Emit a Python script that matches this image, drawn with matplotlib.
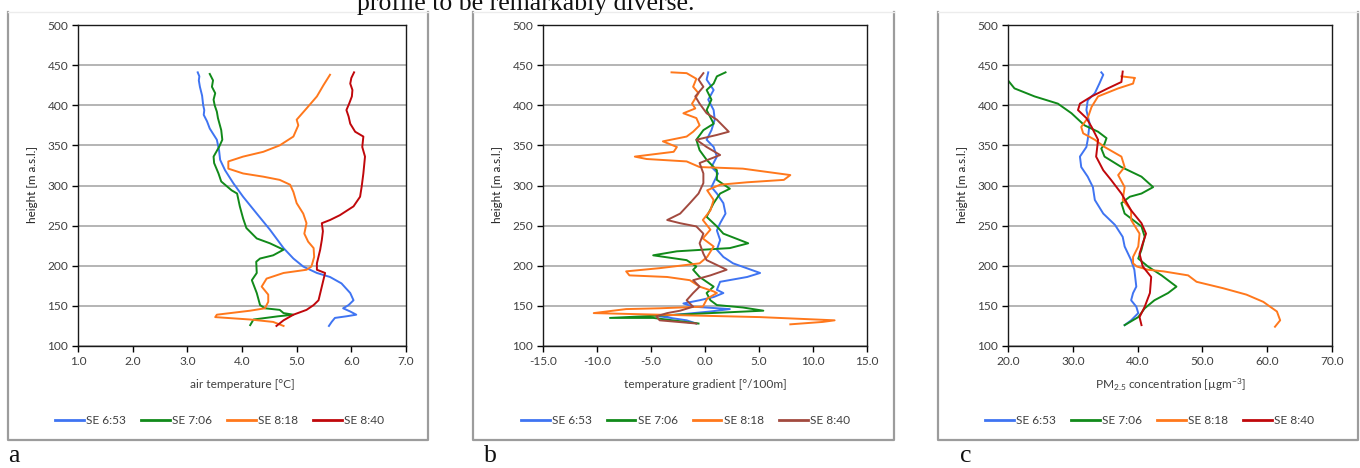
import matplotlib
matplotlib.use("Agg")
import matplotlib.pyplot as plt
from matplotlib.lines import Line2D

plt.rcParams['font.family'] = ['Lato', 'DejaVu Sans']
plt.rcParams['mathtext.fontset'] = 'custom'
plt.rcParams['mathtext.rm'] = 'Lato'
plt.rcParams['mathtext.it'] = 'Lato:italic'

series_names = ["SE 6:53", "SE 7:06", "SE 8:18", "SE 8:40"]

# (a) air temperature profiles
a_653_h = [441, 436, 431, 423, 412, 400, 394, 388, 380, 371, 357, 344, 332, 319, 303, 286, 265, 245, 222, 209, 199, 191, 186, 178, 166, 157, 151, 147, 143, 139, 137, 135, 130, 125]
a_653_t = [3.19, 3.22, 3.21, 3.23, 3.27, 3.29, 3.31, 3.30, 3.36, 3.41, 3.54, 3.58, 3.60, 3.69, 3.84, 4.02, 4.27, 4.51, 4.76, 4.94, 5.12, 5.37, 5.61, 5.82, 5.98, 6.04, 5.95, 5.85, 5.98, 6.09, 5.91, 5.70, 5.64, 5.59]
a_706_h = [439, 431, 423, 415, 407, 400, 392, 384, 369, 357, 348, 336, 328, 315, 305, 294, 290, 274, 259, 247, 234, 228, 220, 213, 209, 205, 191, 182, 166, 151, 147, 145, 141, 139, 137, 133, 126]
a_706_t = [3.41, 3.47, 3.45, 3.51, 3.48, 3.50, 3.54, 3.56, 3.62, 3.64, 3.58, 3.48, 3.49, 3.57, 3.62, 3.81, 3.91, 3.96, 4.02, 4.08, 4.27, 4.51, 4.76, 4.57, 4.33, 4.26, 4.27, 4.18, 4.27, 4.33, 4.42, 4.69, 4.76, 4.94, 4.66, 4.21, 4.15]
a_818_h = [438, 425, 411, 396, 382, 375, 361, 350, 342, 336, 330, 321, 315, 311, 307, 301, 292, 278, 265, 253, 240, 230, 222, 211, 199, 195, 191, 184, 174, 164, 155, 147, 144, 139, 136, 133, 130, 125]
a_818_t = [5.61, 5.49, 5.37, 5.18, 5.00, 5.03, 4.94, 4.69, 4.39, 4.02, 3.75, 3.75, 4.02, 4.39, 4.69, 4.88, 4.94, 5.00, 5.12, 5.18, 5.14, 5.21, 5.31, 5.32, 5.27, 5.18, 4.76, 4.45, 4.36, 4.48, 4.48, 4.42, 4.15, 3.54, 3.51, 4.15, 4.57, 4.76]
a_840_h = [441, 434, 427, 419, 411, 402, 394, 386, 377, 367, 361, 348, 336, 315, 299, 286, 274, 263, 257, 253, 243, 232, 220, 203, 195, 191, 174, 157, 151, 145, 139, 132, 125]
a_840_t = [6.05, 6.00, 5.98, 6.02, 6.01, 5.96, 5.91, 5.95, 5.98, 6.07, 6.22, 6.20, 6.25, 6.22, 6.19, 6.16, 6.04, 5.79, 5.61, 5.46, 5.48, 5.46, 5.43, 5.37, 5.37, 5.52, 5.46, 5.40, 5.31, 5.18, 4.94, 4.76, 4.63]

# (b) temperature gradient profiles
b_653_h = [441, 432, 419, 407, 394, 382, 369, 357, 348, 336, 323, 315, 298, 290, 278, 265, 253, 244, 232, 220, 211, 203, 191, 186, 180, 170, 166, 161, 157, 153, 149, 146, 143, 137, 132, 128]
b_653_g = [0.3, 0.15, 0.8, 0.3, 0.8, 0.9, 0.6, 0.15, 0.8, 1.1, 0.6, 1.2, 0.6, 1.1, 1.7, 1.9, 1.4, 1.1, 1.4, 1.1, 1.7, 2.6, 5.1, 3.9, 1.4, 1.1, 1.7, 0.8, -0.5, -2.0, -1.1, 2.3, 0.5, -4.2, -1.7, -0.8]
b_706_h = [441, 436, 427, 419, 407, 394, 377, 369, 357, 344, 332, 319, 307, 296, 290, 278, 261, 249, 240, 228, 222, 218, 213, 207, 199, 195, 186, 180, 174, 166, 157, 151, 148, 144, 141, 135, 135, 128]
b_706_g = [1.9, 1.1, 0.8, 0.15, 0.6, 0.15, 0.8, -0.15, -0.8, -0.5, 0.15, 1.1, 1.1, 2.3, 1.4, 0.8, 0.15, 1.1, 1.7, 4.0, 2.3, -2.6, -4.8, -1.7, -0.8, -1.1, -0.5, 0.15, 0.8, 0.15, 0.5, 1.1, 3.5, 5.4, 0.5, -8.8, -4.8, -0.6]
b_818_h = [441, 440, 433, 423, 415, 402, 396, 390, 384, 375, 367, 361, 355, 348, 342, 336, 333, 330, 323, 321, 313, 307, 304, 301, 294, 282, 269, 257, 245, 234, 224, 211, 203, 197, 193, 188, 186, 182, 174, 168, 166, 159, 149, 147, 146, 141, 139, 136, 132, 130, 127]
b_818_g = [-3.1, -1.7, -0.8, -1.1, -0.6, -1.2, -0.9, -2.0, -0.8, -0.5, -1.1, -1.7, -3.9, -2.6, -2.9, -6.5, -5.4, -1.7, -0.5, 3.5, 7.9, 7.3, 3.9, 1.4, 0.2, 0.8, 0.5, -0.2, 0.5, -0.2, 0.8, 0.2, -0.5, -4.2, -7.3, -7.0, -3.5, -1.4, -0.5, 0.8, 1.1, 0.2, -0.2, -4.2, -7.3, -10.3, -4.2, 5.1, 12.0, 10.9, 7.9]
b_840_h = [440, 432, 423, 411, 402, 390, 382, 367, 363, 357, 348, 338, 328, 315, 303, 290, 278, 265, 257, 253, 249, 240, 228, 215, 207, 199, 195, 188, 182, 174, 166, 157, 149, 144, 141, 137, 132, 128]
b_840_g = [-0.15, -0.6, -0.15, -0.9, -0.5, 0.15, 1.1, 2.2, 1.1, -0.8, 0.15, 1.4, -0.5, -0.15, -0.15, -0.6, -1.4, -2.3, -3.5, -2.3, -0.8, -0.15, -0.5, -0.15, 0.15, 1.4, 2.0, 0.5, -1.1, -0.5, -1.1, -1.7, -1.1, -2.3, -3.5, -4.5, -4.2, -0.8]

# (c) PM2.5 concentration profiles
c_653_h = [441, 438, 427, 415, 406, 394, 377, 357, 348, 336, 323, 311, 298, 282, 265, 251, 236, 224, 207, 195, 174, 166, 157, 149, 141, 132, 126]
c_653_c = [34.4, 34.7, 34.1, 33.4, 32.3, 32.1, 32.6, 32.3, 32.1, 31.1, 31.3, 32.3, 33.1, 33.4, 34.7, 36.5, 37.7, 38.0, 39.0, 39.5, 39.8, 39.3, 39.0, 39.8, 40.1, 39.0, 38.0]
c_706_h = [431, 421, 411, 402, 390, 375, 367, 359, 352, 346, 336, 323, 311, 298, 290, 286, 278, 265, 249, 236, 220, 209, 199, 188, 174, 166, 157, 147, 136, 126]
c_706_c = [20.0, 21.0, 24.1, 27.7, 29.8, 31.8, 33.9, 35.2, 34.9, 34.4, 34.9, 37.5, 40.6, 42.4, 40.6, 38.8, 37.5, 38.0, 40.6, 41.1, 40.6, 40.1, 41.6, 43.7, 46.0, 44.7, 42.6, 41.1, 40.1, 38.0]
c_818_h = [436, 434, 433, 427, 421, 411, 398, 384, 373, 365, 357, 348, 336, 323, 313, 298, 282, 269, 257, 240, 224, 211, 203, 199, 195, 193, 188, 180, 172, 164, 155, 143, 132, 124]
c_818_c = [37.5, 39.6, 39.5, 39.3, 37.0, 33.9, 32.9, 32.3, 31.3, 31.6, 33.4, 34.9, 37.5, 38.0, 37.0, 38.0, 37.7, 39.0, 39.0, 40.3, 40.1, 39.3, 39.3, 39.9, 41.6, 44.0, 47.8, 49.1, 53.2, 56.8, 59.4, 61.5, 62.0, 61.2]
c_840_h = [442, 429, 421, 411, 402, 394, 384, 373, 357, 336, 319, 307, 290, 269, 253, 240, 228, 215, 199, 186, 166, 149, 136, 126]
c_840_c = [37.7, 37.5, 35.4, 32.9, 31.1, 30.8, 32.1, 32.9, 33.9, 33.6, 34.7, 35.9, 37.5, 39.0, 40.6, 41.3, 40.8, 40.3, 40.8, 42.1, 41.9, 41.1, 40.3, 40.6]

a_ticks = [1.0, 2.0, 3.0, 4.0, 5.0, 6.0, 7.0]
b_ticks = [-15.0, -10.0, -5.0, 0.0, 5.0, 10.0, 15.0]
c_ticks = [20.0, 30.0, 40.0, 50.0, 60.0, 70.0]
height_ticks = [100, 150, 200, 250, 300, 350, 400, 450, 500]

BLUE, GREEN, ORANGE, RED, BROWN = '#3f74f2', '#118a1a', '#ff781c', '#c0070b', '#a24a3f'

W, H = 1360, 468
fig = plt.figure(figsize=(W / 100, H / 100), dpi=100)


def px(x, y):
    return x / W, 1 - y / H


def panel(left, width, ticks, xlabel, profiles, colors, frame):
    ax = fig.add_axes([left / W, 1 - 346 / H, width / W, 321 / H])
    for (vals, hs), c, name in zip(profiles, colors, series_names):
        ax.plot(vals, hs, color=c, lw=1.4, label=name, solid_joinstyle='round')
    ax.set_xlim(ticks[0], ticks[-1])
    ax.set_ylim(100, 500)
    ax.set_xticks(ticks)
    ax.set_xticklabels([f"{t:.1f}" for t in ticks])
    ax.set_yticks(height_ticks)
    ax.grid(axis='y', color='#a8a8a8', lw=1.2)
    ax.set_axisbelow(True)
    for s in ax.spines.values():
        s.set_color('#1a1a1a')
        s.set_linewidth(1.0)
    ax.tick_params(direction='out', length=4, width=1, labelsize=8.6,
                   labelcolor='#404040', pad=3)
    cx = left + width / 2
    fig.text(*px(cx, 385), xlabel, ha='center', va='center', fontsize=8.6, color='#404040')
    fig.text(*px(left - 45, 185), 'height [m a.s.l.]', ha='center', va='center',
             rotation=90, fontsize=8.4, color='#202020')
    # outer grey frame around each chart
    x0, x1 = frame
    fig.add_artist(Line2D([x0 / W, x0 / W, x1 / W, x1 / W], [1 - 12 / H, 1 - 440 / H, 1 - 440 / H, 1 - 12 / H],
                          color='#9c9c9c', lw=1.6))
    fig.add_artist(Line2D([x0 / W, x1 / W], [1 - 12 / H, 1 - 12 / H], color='#ececec', lw=1.0))
    handles = [Line2D([], [], color=c, lw=2.0) for c in colors]
    fig.legend(handles, series_names, loc='center', bbox_to_anchor=px((x0 + x1) / 2 + 2, 421),
               ncol=4, frameon=False, fontsize=8.6, handlelength=2.4, handletextpad=0.2,
               columnspacing=1.25, labelcolor='#404040')
    return ax


panel(78, 328, a_ticks, 'air temperature [°C]',
      [(a_653_t, a_653_h), (a_706_t, a_706_h), (a_818_t, a_818_h), (a_840_t, a_840_h)],
      [BLUE, GREEN, ORANGE, RED], (8, 428))
panel(543, 324, b_ticks, 'temperature gradient [°/100m]',
      [(b_653_g, b_653_h), (b_706_g, b_706_h), (b_818_g, b_818_h), (b_840_g, b_840_h)],
      [BLUE, GREEN, ORANGE, BROWN], (473, 894))
panel(1008, 324, c_ticks, 'PM$_{2.5}$ concentration [µgm$^{-3}$]',
      [(c_653_c, c_653_h), (c_706_c, c_706_h), (c_818_c, c_818_h), (c_840_c, c_840_h)],
      [BLUE, GREEN, ORANGE, RED], (938, 1358))

serif = ['Liberation Serif', 'DejaVu Serif']
fig.text(*px(357, 10), 'profile to be remarkably diverse.', family=serif, fontsize=18.5,
         ha='left', va='baseline', color='#111111')
for lx, letter in [(8, 'a'), (484, 'b'), (960, 'c')]:
    fig.text(*px(lx, 467.5), letter, family=serif, fontsize=18.5, ha='left', va='bottom', color='#111111')

fig.savefig('out.png', dpi=100)
